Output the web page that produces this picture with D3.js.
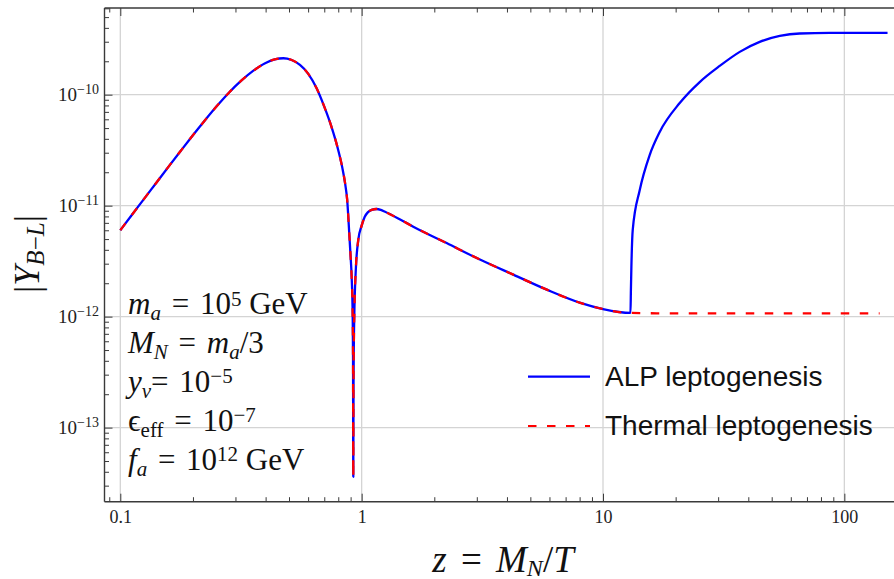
<!DOCTYPE html>
<html><head><meta charset="utf-8">
<script src="https://cdn.jsdelivr.net/npm/d3@7"></script>
<style>body{margin:0;background:#fff}svg{display:block}</style>
</head><body>
<svg id="c" width="894" height="579"></svg>
<script>
// ---- data ----
const zShared = [0.1,0.1122,0.1259,0.1413,0.1585,0.1778,0.1995,0.2239,0.2512,0.2818,0.3162,0.3548,0.3981,0.4365,0.4742,
  0.51,0.555,0.60,0.65,0.70,0.75,0.80,0.8318,0.854,0.871,0.888,0.900,0.909,0.918,0.921,0.9233,0.9255,0.928,0.932,0.947,0.968,
  1.0,1.03,1.06,1.10,1.153,1.20,1.25,1.444,1.636,2.25,3.09,4.25,5.85,8.06,10,13.0];
const yShared = [6.01e-12,8.36e-12,1.164e-11,1.618e-11,2.249e-11,3.11e-11,4.285e-11,5.85e-11,7.89e-11,1.042e-10,1.33e-10,1.637e-10,1.923e-10,2.08e-10,2.13e-10,
  2.065e-10,1.853e-10,1.549e-10,1.148e-10,7.8e-11,5.13e-11,3.16e-11,2.19e-11,1.585e-11,1.127e-11,5.75e-12,3.47e-12,2.29e-12,1.0e-12,4.5e-13,3.6e-14,2.5e-13,5.5e-13,1.0e-12,2.8e-12,4.9e-12,
  6.6e-12,7.94e-12,8.7e-12,9.16e-12,9.33e-12,9.16e-12,8.81e-12,7.5e-12,6.46e-12,4.6e-12,3.27e-12,2.39e-12,1.75e-12,1.33e-12,1.17e-12,1.08e-12];
const zALPTail = [13.05,13.11,13.28,14.20,15.61,17.18,20.79,25.16,30.45,36.86,44.6,54.0,65.3,87.0,151];
const yALPTail = [1.74e-12,2.8e-12,6.04e-12,1.384e-11,2.86e-11,4.62e-11,8.41e-11,1.30e-10,1.815e-10,2.43e-10,2.99e-10,3.38e-10,3.56e-10,3.6e-10,3.6e-10];
const zThermalTail = [20,50,100,140];
const yThermalTail = [1.07e-12,1.07e-12,1.07e-12,1.07e-12];
const seriesNames = ["ALP leptogenesis","Thermal leptogenesis"];
const seriesColors = ["#0000ff","#ff0000"];
const xTickValues = [0.1,1,10,100];
const xTickLabels = ["0.1","1","10","100"];
const yTickValues = [1e-10,1e-11,1e-12,1e-13];
const yTickExponents = ["\u221210","\u221211","\u221212","\u221213"];

// ---- layout ----
const svg = d3.select("#c");
const L = 104.5, Rt = 894, T = 8, B = 501.7;
const x = d3.scaleLog().domain([0.086,160.6]).range([L,Rt]);
const y = d3.scaleLog().domain([2.15e-14,6.04e-10]).range([B,T]);

const alp = zShared.map((z,i)=>({z,v:yShared[i]})).concat(zALPTail.map((z,i)=>({z,v:yALPTail[i]})));
const thermal = zShared.map((z,i)=>({z,v:yShared[i]})).concat(zThermalTail.map((z,i)=>({z,v:yThermalTail[i]})));

function minors(dom){
  const out=[];
  for(let e=-16;e<=4;e++) for(let m=1;m<=9;m++){const v=m*Math.pow(10,e); if(v>=dom[0]&&v<=dom[1]) out.push(v);}
  return out;
}
const xMinor = minors(x.domain()).filter(v=>!xTickValues.some(t=>Math.abs(t-v)/t<1e-9));
const yMinor = minors(y.domain()).filter(v=>!yTickValues.some(t=>Math.abs(t-v)/t<1e-9));

// grid
const grid = svg.append("g").attr("stroke","#d4d4d4").attr("stroke-width",1.3);
grid.selectAll("line.gx").data(xTickValues).join("line").attr("x1",d=>x(d)).attr("x2",d=>x(d)).attr("y1",T).attr("y2",B);
grid.selectAll("line.gy").data(yTickValues).join("line").attr("y1",d=>y(d)).attr("y2",d=>y(d)).attr("x1",L).attr("x2",Rt);

svg.append("clipPath").attr("id","clip").append("rect").attr("x",L).attr("y",T).attr("width",Rt-L).attr("height",B-T);

const line = d3.line().x(d=>x(d.z)).y(d=>y(d.v)).curve(d3.curveMonotoneX);
const plot = svg.append("g").attr("clip-path","url(#clip)");
plot.append("path").attr("d",line(alp)).attr("fill","none").attr("stroke",seriesColors[0]).attr("stroke-width",2.3).attr("stroke-linejoin","round");
plot.append("path").attr("d",line(thermal)).attr("fill","none").attr("stroke",seriesColors[1]).attr("stroke-width",2.3).attr("stroke-dasharray","8.5,10.5");

// axes
const axCol = "#3a3a3a";
function styleAxis(g){ g.select(".domain").remove(); g.selectAll(".tick line").attr("stroke",axCol).attr("stroke-width",1); }
svg.append("g").attr("transform",`translate(0,${B})`)
  .call(d3.axisBottom(x).tickValues(xMinor).tickSize(-4.5).tickFormat("")).call(styleAxis);
svg.append("g").attr("transform",`translate(0,${B})`)
  .call(d3.axisBottom(x).tickValues(xTickValues).tickSize(-8).tickPadding(9).tickFormat((d,i)=>xTickLabels[i]))
  .call(styleAxis)
  .call(g=>g.selectAll("text").attr("font-family","Liberation Serif").attr("font-size",18).attr("fill","#222"));
svg.append("g").attr("transform",`translate(0,${T})`)
  .call(d3.axisTop(x).tickValues(xMinor).tickSize(-4.5).tickFormat("")).call(styleAxis);
svg.append("g").attr("transform",`translate(0,${T})`)
  .call(d3.axisTop(x).tickValues(xTickValues).tickSize(-8).tickFormat("")).call(styleAxis);
svg.append("g").attr("transform",`translate(${L},0)`)
  .call(d3.axisLeft(y).tickValues(yMinor).tickSize(-4.5).tickFormat("")).call(styleAxis);
svg.append("g").attr("transform",`translate(${L},0)`)
  .call(d3.axisLeft(y).tickValues(yTickValues).tickSize(-8).tickFormat("")).call(styleAxis);

const yl = svg.append("g").attr("font-family","Liberation Serif").attr("fill","#222");
yTickValues.forEach((v,i)=>{
  const t = yl.append("text").attr("x",L-5.5).attr("y",y(v)+6).attr("text-anchor","end").attr("font-size",19);
  t.append("tspan").text("10");
  t.append("tspan").attr("font-size",14).attr("dy",-7).text(yTickExponents[i]);
});

svg.append("line").attr("x1",L).attr("x2",Rt).attr("y1",B).attr("y2",B).attr("stroke",axCol).attr("stroke-width",1.4);
svg.append("line").attr("x1",L).attr("x2",Rt).attr("y1",T).attr("y2",T).attr("stroke",axCol).attr("stroke-width",1.4);
svg.append("line").attr("x1",L).attr("x2",L).attr("y1",T).attr("y2",B).attr("stroke",axCol).attr("stroke-width",1.4);

function rich(sel, segs, small, subOff, supOff){
  let cur=0;
  segs.forEach(s=>{
    const off = s.p==="sub"? subOff : s.p==="sup"? supOff : 0;
    const ts = sel.append("tspan").text(s.t).attr("dy",off-cur);
    if(s.p) ts.attr("font-size",small);
    if(s.i) ts.attr("font-style","italic");
    if(s.dx) ts.attr("dx",s.dx);
    cur=off;
  });
}

const annotationLines = [
  [{t:"m",i:1},{t:"a",i:1,p:"sub"},{t:" = ",dx:3},{t:"10",dx:3},{t:"5",p:"sup"},{t:" GeV"}],
  [{t:"M",i:1},{t:"N",i:1,p:"sub"},{t:" = ",dx:3},{t:"m",i:1,dx:3},{t:"a",i:1,p:"sub"},{t:"/3"}],
  [{t:"y",i:1},{t:"\u03bd",i:1,p:"sub"},{t:"= "},{t:"10",dx:3},{t:"\u22125",p:"sup"}],
  [{t:"\u03f5"},{t:"eff",p:"sub"},{t:" = ",dx:3},{t:"10",dx:3},{t:"\u22127",p:"sup"}],
  [{t:"f",i:1},{t:"a",i:1,p:"sub"},{t:" = ",dx:3},{t:"10",dx:3},{t:"12",p:"sup"},{t:" GeV"}]
];
const ann = svg.append("g").attr("font-family","Liberation Serif").attr("font-size",31).attr("fill","#111");
annotationLines.forEach((segs,i)=>{
  const t = ann.append("text").attr("x",128).attr("y",314+i*38.9).attr("xml:space","preserve");
  rich(t, segs, 21, 6, -8.5);
});

const lg = svg.append("g");
seriesNames.forEach((n,i)=>{
  const yy = 376.7 + i*49.3;
  lg.append("line").attr("x1",528).attr("x2",590).attr("y1",yy).attr("y2",yy)
    .attr("stroke",seriesColors[i]).attr("stroke-width",2.2)
    .attr("stroke-dasharray", i===1? "8.5,10.5": null);
  lg.append("text").attr("x",605).attr("y",yy+9).attr("font-family","Liberation Sans").attr("font-size",28).attr("fill","#111").text(n);
});

const xt = svg.append("text").attr("x",503).attr("y",572).attr("text-anchor","middle")
  .attr("font-family","Liberation Serif").attr("font-size",37).attr("fill","#111").attr("xml:space","preserve");
rich(xt, [{t:"z",i:1},{t:" = ",dx:5},{t:"M",i:1,dx:5},{t:"N",i:1,p:"sub"},{t:"/"},{t:"T",i:1}], 24, 3.5, 0);
const yt = svg.append("text").attr("transform","translate(39,254) rotate(-90)").attr("text-anchor","middle")
  .attr("font-family","Liberation Serif").attr("font-size",36).attr("fill","#111");
rich(yt, [{t:"|"},{t:"Y",i:1},{t:"B",i:1,p:"sub"},{t:"\u2212",p:"sub"},{t:"L",i:1,p:"sub"},{t:"|"}], 25, 5, 0);
</script>
</body></html>
